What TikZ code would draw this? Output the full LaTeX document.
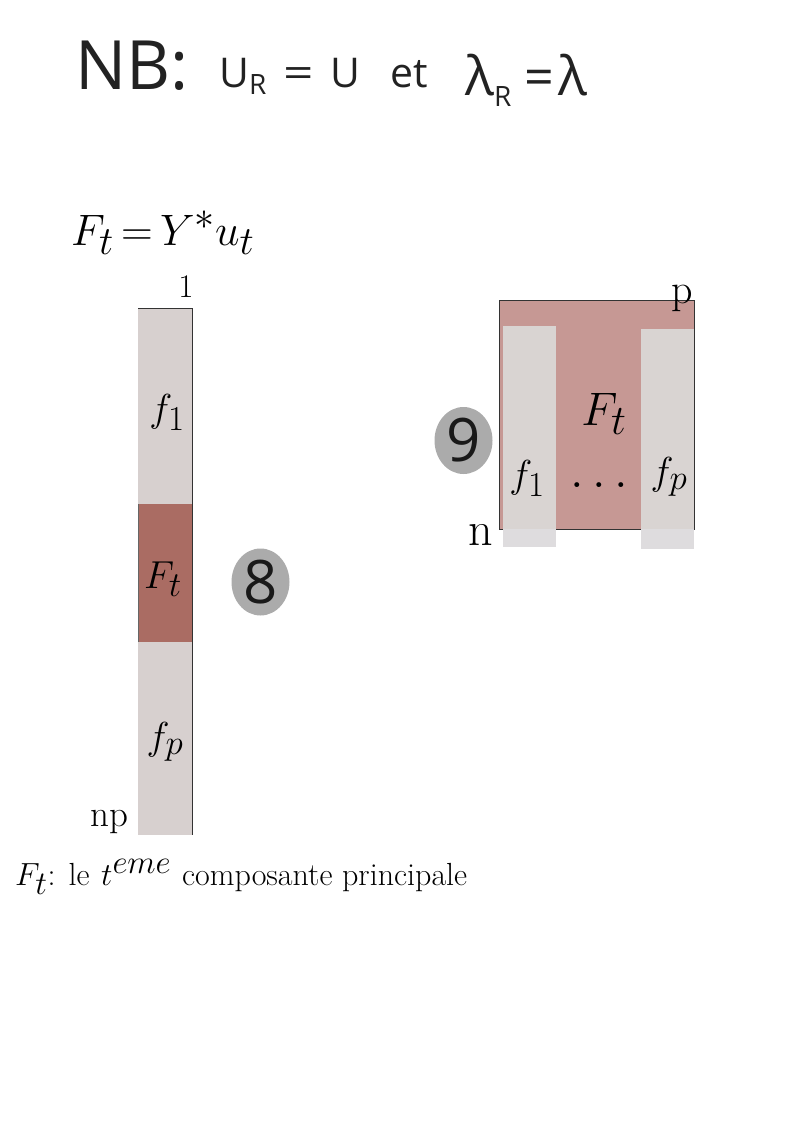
\RequirePackage{fix-cm}
\documentclass[tikz,border=0pt]{standalone}
\usepackage{fontspec}
\newfontfamily\nbfont{Open Sans}
\DeclareMathSizes{32}{32}{33}{28}
\DeclareMathSizes{39}{39}{35}{30}
\DeclareMathSizes{44}{44}{40}{34}
\DeclareMathSizes{47}{47}{42}{36}
\DeclareMathSizes{50}{50}{45}{38}
\definecolor{lightcol}{RGB}{215,208,207}
\definecolor{darkcol}{RGB}{170,108,99}
\definecolor{boxcol}{RGB}{198,152,148}
\definecolor{colcol}{RGB}{217,212,210}
\definecolor{palecol}{RGB}{222,220,222}
\definecolor{inkcol}{RGB}{34,34,34}
\tikzset{
  txt/.style={inner sep=0pt, anchor=base},
  fs/.style={font=\fontsize{#1}{#1}\selectfont},
  nbtxt/.style={inner sep=0pt, anchor=base west, text=inkcol, font=\nbfont\fontsize{#1}{#1}\selectfont},
  badge/.style={ellipse, fill=black!33, minimum width=58pt, minimum height=67pt, inner sep=0pt,
                font=\nbfont\fontsize{60}{60}\selectfont, text=black!90},
  edge/.style={draw=black!80, line width=0.8pt}
}
\usetikzlibrary{shapes.geometric}

\begin{document}
\begin{tikzpicture}[x=1pt, y=-1pt]
\useasboundingbox (0,0) rectangle (794,1123);

% Header
\node[nbtxt=68] (nb) at (75,90) {NB:};
\node[nbtxt=41] (ur) at (219,88) {U\raisebox{-7pt}{\fontsize{28}{28}\selectfont R}};
\node[nbtxt=41, xscale=1.3] (eqa) at (283,88) {=};
\node[nbtxt=41] (uu) at (330,88) {U};
\node[nbtxt=41] (et) at (390,88) {et};
\node[nbtxt=54] (lr) at (465,96) {λ\raisebox{-11pt}{\fontsize{28}{28}\selectfont R}};
\node[nbtxt=52] (eqb) at (524,96) {=};
\node[nbtxt=54] (ll) at (558,96) {λ};

% Column vector
\node[txt, anchor=base west, fs=44] (eq) at (71,245) {$F_t\,{=}\,Y^{*}u_t$};
\node[txt, fs=33] (one) at (186,297) {1};
\fill[lightcol] (138,308) rectangle (192,504);
\fill[darkcol] (138,504) rectangle (192,642);
\fill[lightcol] (138,642) rectangle (192,835);
\draw[edge] (138,308) -- (192,308) -- (192,835);
\draw[edge, draw=black!60] (138,504) -- (138,642);
\node[txt, fs=39] (f1) at (167,421) {$f_1$};
\node[txt, fs=39] (Ft) at (163,588) {$F_t$};
\node[txt, fs=39] (fp) at (165,749) {$f_p$};
\node[txt, anchor=base east, fs=37] (np) at (129,826) {np};
\node[badge] (eight) at (260.5,582) {8};

% Matrix
\fill[boxcol] (499,300) rectangle (694,529);
\draw[edge] (499,300) rectangle (694,529);
\fill[colcol] (503,326) rectangle (556,529);
\fill[palecol] (503,529) rectangle (556,547);
\fill[colcol] (641,329) rectangle (694,529);
\fill[palecol] (641,529) rectangle (694,549);
\node[txt, fs=42] (p) at (682,303) {p};
\node[txt, anchor=base east, fs=48] (n) at (493,545) {n};
\node[txt, fs=47] (Ftm) at (604,425) {$F_t$};
\node[txt, fs=39] (f1m) at (527,487) {$f_1$};
\node[txt, fs=50] (dots) at (599,487) {$\ldots$};
\node[txt, fs=39] (fpm) at (669,484) {$f_p$};
\node[badge] (nine) at (463.5,440.5) {9};

% Caption
\node[txt, anchor=base west, fs=32] (cap) at (15,885) {$F_t$: le\hspace{2pt} $t^{eme}$};
\node[txt, anchor=base west, fs=32] (capb) at (182,885) {composante principale};

\end{tikzpicture}
\end{document}
